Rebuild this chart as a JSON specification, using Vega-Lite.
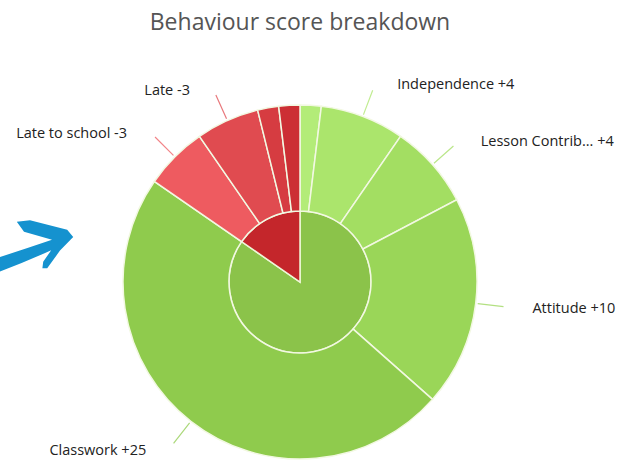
{
  "$schema": "https://vega.github.io/schema/vega-lite/v6.json",
  "width": 600,
  "height": 358,
  "autosize": "none",
  "padding": {"left": 0, "top": 103, "right": 28, "bottom": 0},
  "background": "white",
  "config": {"view": {"stroke": null}},
  "title": {
    "text": "Behaviour score breakdown",
    "font": "Open Sans",
    "fontSize": 23,
    "fontWeight": "normal",
    "color": "#555555",
    "anchor": "middle",
    "baseline": "alphabetic",
    "frame": "group",
    "offset": 24
  },
  "datasets": {
    "scores": [
      {"order": 1, "name": "Other positive", "sign": "+", "points": 1, "label": ""},
      {"order": 2, "name": "Independence", "sign": "+", "points": 4, "label": "Independence +4"},
      {"order": 3, "name": "Lesson Contribution", "sign": "+", "points": 4, "label": "Lesson Contrib... +4"},
      {"order": 4, "name": "Attitude", "sign": "+", "points": 10, "label": "Attitude +10"},
      {"order": 5, "name": "Classwork", "sign": "+", "points": 25, "label": "Classwork +25"},
      {"order": 6, "name": "Late to school", "sign": "-", "points": 3, "label": "Late to school -3"},
      {"order": 7, "name": "Late", "sign": "-", "points": 3, "label": "Late -3"},
      {"order": 8, "name": "Other negative A", "sign": "-", "points": 1, "label": ""},
      {"order": 9, "name": "Other negative B", "sign": "-", "points": 1, "label": ""}
    ]
  },
  "resolve": {"scale": {"color": "independent"}},
  "layer": [
    {
      "data": {"name": "scores"},
      "transform": [
        {"aggregate": [{"op": "sum", "field": "points", "as": "points"}, {"op": "min", "field": "order", "as": "order"}], "groupby": ["sign"]}
      ],
      "mark": {"type": "arc", "radius": 71, "stroke": "#EEF7D8", "strokeWidth": 1.5},
      "encoding": {
        "theta": {"field": "points", "type": "quantitative", "stack": true},
        "order": {"field": "order", "type": "quantitative"},
        "color": {"field": "sign", "type": "nominal", "legend": null,
          "scale": {"domain": ["+", "-"], "range": ["#8BC34A", "#C4262B"]}}
      }
    },
    {
      "data": {"name": "scores"},
      "mark": {"type": "arc", "radius": 177, "radius2": 71, "stroke": "#F2F8E2", "strokeWidth": 1.5},
      "encoding": {
        "theta": {"field": "points", "type": "quantitative", "stack": true},
        "order": {"field": "order", "type": "quantitative"},
        "color": {"field": "name", "type": "nominal", "legend": null,
          "scale": {"domain": ["Other positive", "Independence", "Lesson Contribution", "Attitude", "Classwork", "Late to school", "Late", "Other negative A", "Other negative B"],
            "range": ["#B3EC78", "#ABE56C", "#A3DE62", "#9AD658", "#8FCB4D", "#EE5B60", "#E04B50", "#D63C41", "#CC2F34"]}}
      }
    },
    {
      "data": {"name": "scores"},
      "transform": [
        {"stack": "points", "groupby": [], "sort": [{"field": "order", "order": "ascending"}], "as": ["a0", "a1"]},
        {"calculate": "(datum.a0 + datum.a1) / 2", "as": "mid"},
        {"filter": "datum.label != ''"}
      ],
      "mark": {"type": "arc", "radius": 205, "radius2": 179, "filled": false, "strokeWidth": 1.2, "opacity": 0.75},
      "encoding": {
        "theta": {"field": "mid", "type": "quantitative", "stack": null},
        "theta2": {"field": "mid"},
        "color": {"field": "name", "type": "nominal", "legend": null,
          "scale": {"domain": ["Other positive", "Independence", "Lesson Contribution", "Attitude", "Classwork", "Late to school", "Late", "Other negative A", "Other negative B"],
            "range": ["#B3EC78", "#ABE56C", "#A3DE62", "#9AD658", "#8FCB4D", "#EE5B60", "#E04B50", "#D63C41", "#CC2F34"]}}
      }
    },
    {
      "data": {"name": "scores"},
      "transform": [
        {"stack": "points", "groupby": [], "sort": [{"field": "order", "order": "ascending"}], "as": ["a0", "a1"]},
        {"calculate": "(datum.a0 + datum.a1) / 2", "as": "mid"},
        {"filter": "datum.label != '' && datum.mid < 26"}
      ],
      "mark": {"type": "text", "radius": 212, "dx": 22, "dy": 1, "align": "left", "baseline": "middle", "font": "Open Sans", "fontSize": 14.5, "fontWeight": 500, "color": "#222222"},
      "encoding": {
        "theta": {"field": "mid", "type": "quantitative", "stack": null},
        "text": {"field": "label"}
      }
    },
    {
      "data": {"name": "scores"},
      "transform": [
        {"stack": "points", "groupby": [], "sort": [{"field": "order", "order": "ascending"}], "as": ["a0", "a1"]},
        {"calculate": "(datum.a0 + datum.a1) / 2", "as": "mid"},
        {"filter": "datum.label != '' && datum.mid >= 26"}
      ],
      "mark": {"type": "text", "radius": 212, "dx": -23, "dy": 2, "align": "right", "baseline": "middle", "font": "Open Sans", "fontSize": 14.5, "fontWeight": 500, "color": "#222222"},
      "encoding": {
        "theta": {"field": "mid", "type": "quantitative", "stack": null},
        "text": {"field": "label"}
      }
    },
    {
      "data": {"values": [{"note": "arrow"}]},
      "mark": {
        "type": "point",
        "filled": true,
        "color": "#1592CF",
        "opacity": 1,
        "strokeWidth": 0,
        "size": 6400,
        "xOffset": -264,
        "yOffset": -37,
        "shape": "M -0.9 0.3 Q -0.275 0.1 0.4 -0.13 L -0.3 -0.33 L -0.48 -0.58 L -0.15 -0.62 L 0.78 -0.38 L 0.93 -0.2 L 0.6 0.14 L 0.28 0.58 L 0.16 0.58 L 0.18 0.42 L 0.38 0.13 Q -0.275 0.43 -0.9 0.66 Z"
      },
      "encoding": {}
    }
  ]
}
